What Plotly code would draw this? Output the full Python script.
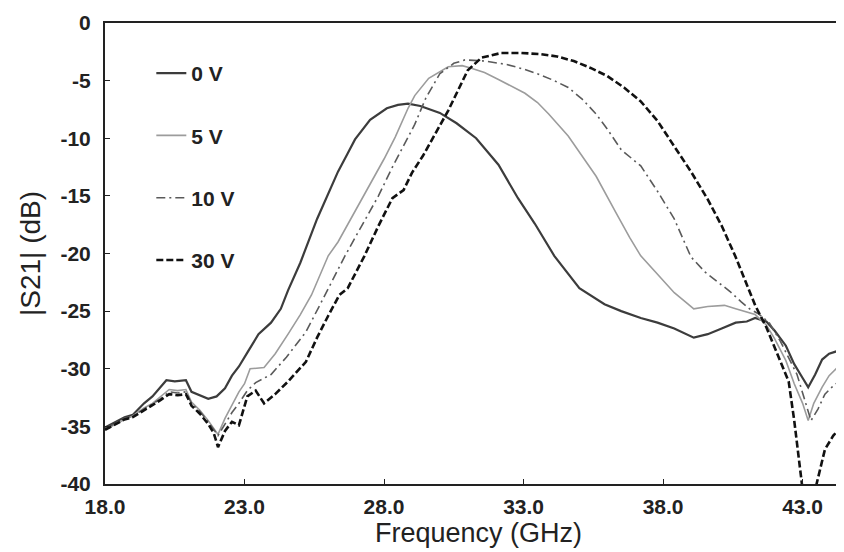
import plotly.graph_objects as go

# values (frequency in GHz, |S21| in dB)
freq_0v = [18.0, 18.3, 18.7, 19.0, 19.4, 19.7, 20.0, 20.2, 20.5, 20.9, 21.1, 21.4, 21.7, 22.0, 22.3,
           22.55, 22.8, 23.1, 23.5, 23.95, 24.3, 24.56, 25.0, 25.6, 26.0, 26.35, 26.7, 26.96, 27.5,
           28.1, 28.5, 28.86, 29.3, 30.0, 30.6, 31.3, 32.1, 32.8, 33.4, 34.1, 35.0, 35.9, 36.5, 37.2,
           37.8, 38.4, 39.1, 39.6, 40.1, 40.6, 41.0, 41.3, 41.7, 42.0, 42.4, 42.7, 43.0, 43.2, 43.45,
           43.7, 43.95, 44.2, 44.5, 44.75]
s21_0v = [-35.1, -34.7, -34.2, -34.0, -33.0, -32.4, -31.5, -31.0, -31.1, -31.0, -32.0, -32.3, -32.6,
          -32.4, -31.7, -30.6, -29.8, -28.6, -27.0, -26.0, -24.8, -23.2, -20.8, -17.0, -14.8, -12.9,
          -11.3, -10.1, -8.4, -7.4, -7.1, -7.0, -7.2, -7.8, -8.7, -10.0, -12.3, -15.2, -17.4, -20.2,
          -23.0, -24.4, -25.0, -25.6, -26.0, -26.5, -27.3, -27.0, -26.5, -26.0, -25.9, -25.6, -25.9,
          -26.7, -28.0, -29.6, -30.8, -31.6, -30.5, -29.2, -28.7, -28.5, -28.9, -29.6]

freq_5v = [18.0, 18.3, 18.7, 19.0, 19.4, 19.7, 20.0, 20.3, 20.6, 20.9, 21.1, 21.4, 21.7, 22.05, 22.3,
           22.55, 22.8, 23.0, 23.2, 23.7, 24.1, 24.56, 25.0, 25.4, 26.0, 26.35, 27.0, 27.5, 28.0,
           28.4, 28.86, 29.1, 29.6, 30.3, 30.8, 31.1, 31.6, 32.1, 32.6, 33.05, 33.5, 33.9, 34.6, 35.0,
           35.6, 36.3, 36.8, 37.2, 37.8, 38.4, 38.8, 39.1, 39.6, 40.2, 40.6, 41.0, 41.3, 41.7, 42.0,
           42.4, 42.7, 43.0, 43.2, 43.4, 43.7, 43.95, 44.2, 44.5, 44.75]
s21_5v = [-35.3, -34.9, -34.4, -34.1, -33.4, -33.0, -32.4, -31.8, -31.9, -31.8, -32.9, -33.6, -34.5,
          -35.7, -34.3, -33.1, -32.0, -31.3, -30.0, -29.9, -28.7, -27.0, -25.3, -23.6, -20.2, -19.0,
          -16.2, -14.0, -11.8, -9.9, -7.4, -6.3, -4.8, -3.8, -3.7, -3.9, -4.3, -4.9, -5.5, -6.1,
          -6.9, -7.9, -9.8, -11.2, -13.3, -16.4, -18.6, -20.2, -21.8, -23.4, -24.2, -24.8, -24.6,
          -24.5, -24.8, -25.1, -25.3, -26.2, -27.4, -29.3, -31.3, -33.0, -34.5, -33.0, -31.6, -30.6,
          -30.0, -30.5, -31.6]

freq_10v = [18.0, 18.3, 18.7, 19.0, 19.4, 19.7, 20.0, 20.3, 20.6, 20.9, 21.1, 21.4, 21.7, 22.05, 22.3,
            22.55, 22.8, 23.1, 23.4, 23.95, 24.5, 25.2, 25.8, 26.6, 27.2, 27.8, 28.3, 28.75, 29.1,
            29.5, 30.0, 30.5, 30.9, 31.6, 32.4, 33.0, 33.6, 34.1, 34.6, 35.1, 35.6, 36.0, 36.5, 37.2,
            37.8, 38.4, 39.0, 39.5, 40.0, 40.4, 40.8, 41.1, 41.4, 41.8, 42.2, 42.5, 42.8, 43.05, 43.3,
            43.55, 43.8, 44.05, 44.3, 44.55, 44.75]
s21_10v = [-35.2, -34.8, -34.3, -34.1, -33.5, -33.1, -32.6, -32.0, -32.1, -32.0, -33.0, -33.7, -34.6,
           -35.8, -34.8, -33.8, -33.0, -31.9, -31.2, -30.5, -29.0, -26.8, -24.0, -20.2, -17.6, -15.0,
           -12.5, -10.4, -8.8, -6.5, -4.4, -3.5, -3.2, -3.3, -3.6, -4.0, -4.5, -5.0, -5.6, -6.6, -7.9,
           -9.2, -11.0, -12.4, -14.6, -17.0, -20.3, -21.6, -22.5, -23.3, -24.2, -24.8, -25.2, -26.0,
           -27.6, -29.0, -30.5, -32.5, -34.5, -33.5, -32.2, -31.6, -31.1, -32.0, -33.0]

freq_30v = [18.0, 18.3, 18.7, 19.0, 19.4, 19.7, 20.0, 20.3, 20.6, 20.9, 21.1, 21.4, 21.7, 21.9, 22.05,
            22.3, 22.55, 22.8, 23.1, 23.4, 23.7, 24.1, 24.56, 25.2, 25.6, 26.0, 26.4, 26.7, 27.3, 27.8,
            28.3, 28.7, 29.0, 29.4, 29.9, 30.3, 30.7, 31.0, 31.5, 32.2, 32.9, 33.6, 34.2, 34.8, 35.4,
            36.0, 36.6, 37.2, 37.8, 38.4, 39.0, 39.6, 40.1, 40.6, 41.0, 41.3, 41.7, 42.0, 42.3, 42.5,
            42.7, 42.85, 43.0, 43.2, 43.4, 43.55, 43.8, 44.1, 44.4, 44.55, 44.75]
s21_30v = [-35.3, -34.9, -34.4, -34.2, -33.6, -33.2, -32.7, -32.2, -32.3, -32.2, -33.2, -33.9, -34.8,
           -35.6, -36.8, -35.4, -34.6, -34.9, -32.4, -31.9, -33.0, -32.2, -31.1, -29.4, -27.3, -25.4,
           -23.6, -23.0, -20.2, -17.6, -15.2, -14.5, -13.0, -11.5, -9.3, -7.6, -5.6, -4.1, -3.0, -2.6,
           -2.6, -2.7, -2.9, -3.3, -3.9, -4.6, -5.6, -6.8, -8.5, -10.7, -12.9, -15.3, -17.6, -20.3,
           -22.8, -24.5, -26.4, -28.2, -29.9, -31.1, -34.5, -37.6, -40.5, -41.5, -41.0, -39.5, -37.0,
           -35.8, -35.0, -37.5, -39.5]

x_tick_vals = [18, 23, 28, 33, 38, 43]
x_tick_text = ["18.0", "23.0", "28.0", "33.0", "38.0", "43.0"]
y_tick_vals = [0, -5, -10, -15, -20, -25, -30, -35, -40]
y_tick_text = ["0", "-5", "-10", "-15", "-20", "-25", "-30", "-35", "-40"]

FONT = "Liberation Sans, Arial, sans-serif"

series = [
    ("0 V", freq_0v, s21_0v, dict(color="#3c3c3c", width=2.2)),
    ("5 V", freq_5v, s21_5v, dict(color="#9c9c9c", width=1.6)),
    ("10 V", freq_10v, s21_10v, dict(color="#5a5a5a", width=1.6, dash="9px,4px,2px,4px")),
    ("30 V", freq_30v, s21_30v, dict(color="#111111", width=2.6, dash="7px,3px")),
]

fig = go.Figure()
for i, (name, f, s, line) in enumerate(series):
    fig.add_trace(go.Scatter(x=f, y=s, mode="lines", name=name, line=line, legendgroup=str(i)))

fig.update_layout(
    width=844, height=552,
    margin=dict(l=97, r=0, t=15, b=76),
    paper_bgcolor="white", plot_bgcolor="white",
    font=dict(family=FONT, color="#222"),
    legend=dict(x=0.062, y=0.935, xanchor="left", yanchor="top",
                font=dict(size=21, weight="bold", color="#222"),
                tracegroupgap=32, bgcolor="rgba(0,0,0,0)"),
)
fig.update_xaxes(
    range=[18, 44.77], tickvals=x_tick_vals, ticktext=x_tick_text,
    ticks="inside", ticklen=5, tickcolor="#222", ticklabelstandoff=3,
    tickfont=dict(size=21, weight="bold", color="#222"),
    showline=True, linecolor="#222", linewidth=2, mirror=True,
    showgrid=False, zeroline=False,
    title=dict(text="Frequency (GHz)", font=dict(size=27, color="#222"), standoff=0),
)
fig.update_yaxes(
    range=[-40, 0], tickvals=y_tick_vals, ticktext=y_tick_text,
    ticks="inside", ticklen=5, tickcolor="#222", ticklabelstandoff=8,
    tickfont=dict(size=21, weight="bold", color="#222"),
    showline=True, linecolor="#222", linewidth=2,
    showgrid=False, zeroline=False,
    title=dict(text="|S21| (dB)", font=dict(size=28, color="#222"), standoff=12),
)

fig.write_html("out.html")
